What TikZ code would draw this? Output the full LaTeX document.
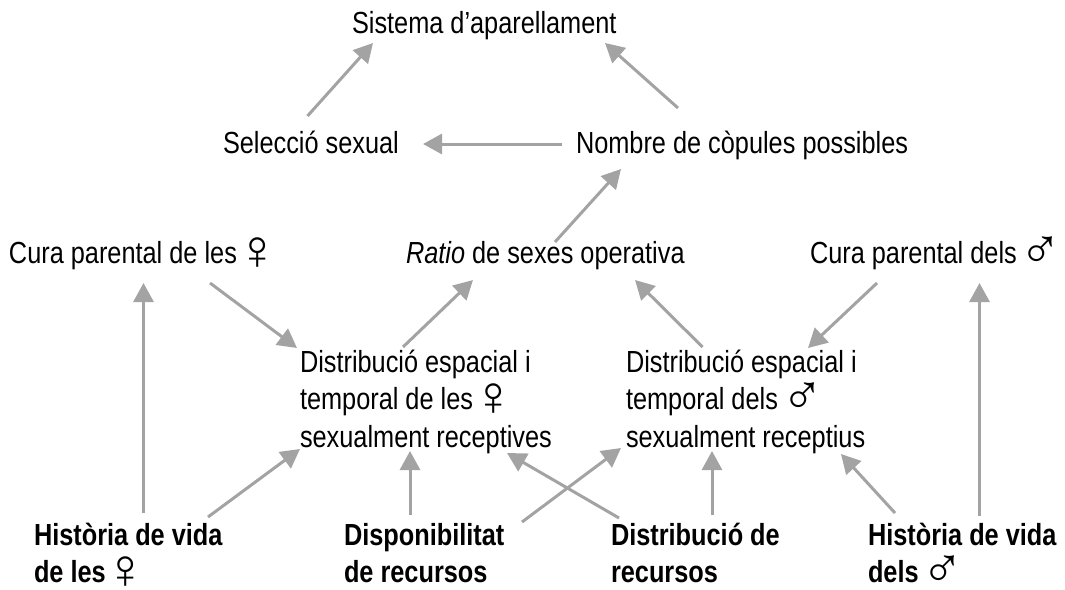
\documentclass[tikz,border=0pt]{standalone}
\usepackage{fontspec}
\setmainfont{Liberation Sans}[FakeStretch=0.83]
\newfontfamily\symf{Liberation Sans}[Scale=1.85]
\usetikzlibrary{arrows.meta}
\definecolor{arrgray}{RGB}{163,163,163}
\newcommand\mlines[1]{\begin{tabular}[t]{@{}l@{}}#1\end{tabular}}
\newcommand\fem{\hspace{-8pt}\smash{\raisebox{-6pt}{\symf\mdseries ♀}}}
\newcommand\mal{\hspace{-4pt}\smash{\raisebox{-5pt}{\symf\mdseries ♂}}}
\begin{document}
\begin{tikzpicture}[x=1pt,y=-1pt,
  lbl/.style={inner sep=0pt,outer sep=0pt,anchor=base west,
    font=\fontsize{30.5}{37.5}\selectfont},
  blbl/.style={lbl,font=\fontsize{30.5}{37}\selectfont\bfseries},
  conn/.style={draw=arrgray,line width=3pt,
    -{Triangle[length=19pt,width=20pt]},fill=arrgray}]
\useasboundingbox (0,0) rectangle (1065,589);
% nodes
\node[lbl] (sis) at (352,33) {Sistema d’aparellament};
\node[lbl] (sel) at (223,153) {Selecció sexual};
\node[lbl] (nom) at (576,153) {Nombre de còpules possibles};
\node[lbl] (cf) at (9,263) {Cura parental de les \fem};
\node[lbl] (rat) at (406,263) {\textit{Ratio} de sexes operativa};
\node[lbl] (cm) at (810,263) {Cura parental dels \mal};
\node[lbl] (df) at (300,372) {\mlines{Distribució espacial i\\temporal de les \fem\\sexualment receptives}};
\node[lbl] (dm) at (626,372) {\mlines{Distribució espacial i\\temporal dels \mal\\sexualment receptius}};
\node[blbl] (hf) at (34,545) {\mlines{Història de vida\\de les \fem}};
\node[blbl] (dr) at (344,545) {\mlines{Disponibilitat\\de recursos}};
\node[blbl] (rd) at (611,545) {\mlines{Distribució de\\recursos}};
\node[blbl] (hm) at (868,545) {\mlines{Història de vida\\dels \mal}};
% connectors
\draw[conn] ([shift={(84.5,-37)}]sel.base west) -- ([shift={(21,10)}]sis.base west);
\draw[conn] ([shift={(102,-45)}]nom.base west) -- ([shift={(253,10)}]sis.base west);
\draw[conn] ([shift={(-14,-9)}]nom.base west) -- ([shift={(200,-9)}]sel.base west);
\draw[conn] ([shift={(149,-21)}]rat.base west) -- ([shift={(45,16)}]nom.base west);
\draw[conn] ([shift={(201,20)}]cf.base west) -- ([shift={(-3,-24)}]df.base west);
\draw[conn] ([shift={(103,-25)}]df.base west) -- ([shift={(67,17)}]rat.base west);
\draw[conn] ([shift={(76.5,-25)}]dm.base west) -- ([shift={(229,17)}]rat.base west);
\draw[conn] ([shift={(67,20)}]cm.base west) -- ([shift={(182,-24)}]dm.base west);
\draw[conn] ([shift={(109.5,-32)}]hf.base west) -- ([shift={(134.5,20)}]cf.base west);
\draw[conn] ([shift={(174,-28)}]hf.base west) -- ([shift={(0,77)}]df.base west);
\draw[conn] ([shift={(66,-30)}]dr.base west) -- ([shift={(110,79)}]df.base west);
\draw[conn] ([shift={(178,-23)}]dr.base west) -- ([shift={(-5,76)}]dm.base west);
\draw[conn] ([shift={(8,-27)}]rd.base west) -- ([shift={(207,81)}]df.base west);
\draw[conn] ([shift={(101,-30)}]rd.base west) -- ([shift={(86,79)}]dm.base west);
\draw[conn] ([shift={(27,-32)}]hm.base west) -- ([shift={(215,82)}]dm.base west);
\draw[conn] ([shift={(111.5,-29)}]hm.base west) -- ([shift={(169.5,20)}]cm.base west);
\end{tikzpicture}
\end{document}
